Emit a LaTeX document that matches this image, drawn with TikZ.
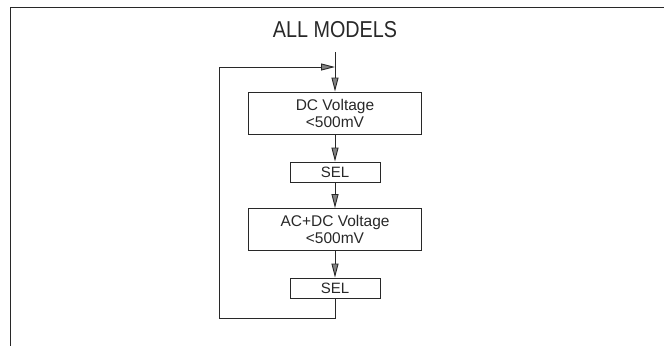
\documentclass[tikz,border=0pt]{standalone}
\usepackage{fontspec}
\setmainfont{Liberation Sans}
\newfontfamily\narrowfont{Liberation Sans}[FakeStretch=0.86]
\usepackage{xcolor}
\definecolor{inkgray}{RGB}{40, 40, 40}
\definecolor{headgray}{RGB}{130, 130, 130}
\usetikzlibrary{arrows.meta, positioning}

\begin{document}
\begin{tikzpicture}[x=1pt, y=-1pt,
      modeb/.style={rectangle, draw=inkgray, line width=0.9pt, text=inkgray, font=\fontsize{15.5}{17}\selectfont, minimum height=42pt, minimum width=173pt, align=center, inner sep=0pt},
      selb/.style={rectangle, draw=inkgray, line width=0.9pt, text=inkgray, font=\fontsize{15}{17}\selectfont, minimum height=20pt, minimum width=90pt, inner sep=0pt},
      arr/.style={-{Triangle[open, length=14pt, width=7pt, fill=headgray]}, line width=0.9pt, inkgray},
      line/.style={line width=0.9pt, inkgray}
  ]
    \useasboundingbox (0,0) rectangle (664,346);
    % Frame
    \draw[line] (664,7) -- (10,7) -- (10,346);

    % Title
    \node[text=inkgray, font=\narrowfont\fontsize{23}{26}\selectfont] (title) at (335,30) {ALL MODELS};

    % Column
    \coordinate (in) at (335,52);
    \node[modeb] (dc) at (335,113) {DC Voltage\\<500mV};
    \node[selb] (sel1) at (335,172) {SEL};
    \node[modeb] (acdc) at (335,229.5) {AC+DC Voltage\\<500mV};
    \node[selb] (sel2) at (335,288) {SEL};

    % Loop points
    \coordinate (back) at (219,318);
    \coordinate (join) at (335,67);

    % Connections
    \draw[arr] (in) -- (dc);
    \draw[arr] (dc) -- (sel1); \draw[arr] (sel1) -- (acdc); \draw[arr] (acdc) -- (sel2);
    \draw[arr] (sel2.south) |- (back) |- (join);
  \end{tikzpicture}
\end{document}
